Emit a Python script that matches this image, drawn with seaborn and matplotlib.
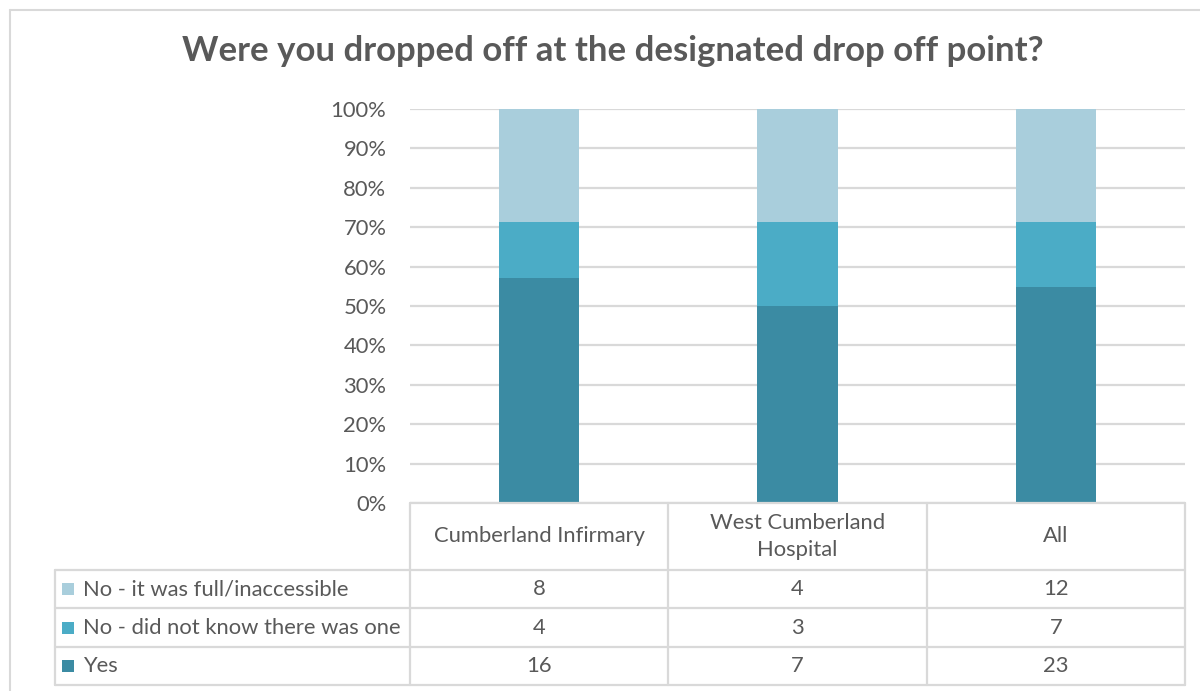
import numpy as np
import pandas as pd
import seaborn as sns
import matplotlib.pyplot as plt
from matplotlib.lines import Line2D
from matplotlib.patches import Rectangle
from matplotlib.transforms import blended_transform_factory

sites = ["Cumberland Infirmary", "West Cumberland\nHospital", "All"]
answers = ["No - it was full/inaccessible", "No - did not know there was one", "Yes"]
full_counts = [8, 4, 12]
unknown_counts = [4, 3, 7]
yes_counts = [16, 7, 23]
colors = ["#A9CEDC", "#4BACC6", "#3B8BA3"]

W, H = 1200, 691
grey = "#D9D9D9"
text_col = "#595959"
fs = 15.8

sns.set_theme(style="white")
plt.rcParams["font.family"] = ["Lato", "DejaVu Sans"]

df = pd.DataFrame({"site": sites, "full": full_counts,
                   "unknown": unknown_counts, "yes": yes_counts})
total = df["full"] + df["unknown"] + df["yes"]
# stacked 100% tops, drawn back to front
df["top_full"] = (df["yes"] + df["unknown"] + df["full"]) / total
df["top_unknown"] = (df["yes"] + df["unknown"]) / total
df["top_yes"] = df["yes"] / total

fig = plt.figure(figsize=(W / 100, H / 100), dpi=100)
ax = fig.add_axes([410 / W, 1 - 503 / H, (1185 - 410) / W, (503 - 109) / H])

for col, c in zip(["top_full", "top_unknown", "top_yes"], colors):
    sns.barplot(data=df, x="site", y=col, order=sites, color=c, width=0.31,
                saturation=1, linewidth=0, errorbar=None, ax=ax)

ax.set_ylim(0, 1)
ax.set_xlim(-0.5, len(sites) - 0.5)
ax.set_yticks(np.arange(0, 1.01, 0.1))
ax.set_yticklabels([f"{int(round(v * 100))}%" for v in np.arange(0, 1.01, 0.1)])
ax.tick_params(axis="y", length=0, pad=17, labelsize=fs, labelcolor=text_col)
ax.tick_params(axis="x", length=0, labelbottom=False)
ax.set_xlabel("")
ax.set_ylabel("")
ax.yaxis.grid(True, color=grey, lw=1.6)
ax.set_axisbelow(True)
sns.despine(ax=ax, left=True, bottom=True)

fig.text(613 / W, 1 - 51 / H, "Were you dropped off at the designated drop off point?",
         ha="center", va="center", fontsize=25, fontweight="bold", color=text_col)

# data table under the chart
tr = blended_transform_factory(ax.transData, fig.transFigure)
fy = lambda y: 1 - y / H
rows_y = [503, 570, 608, 647, 685]
left_x = 55 / W
for y in rows_y[1:]:
    fig.add_artist(Line2D([left_x, ax.get_position().x1], [fy(y), fy(y)],
                          color=grey, lw=1.6))
fig.add_artist(Line2D([-0.5, len(sites) - 0.5], [fy(503), fy(503)],
                      color=grey, lw=1.6, transform=tr))
for i in range(len(sites) + 1):
    fig.add_artist(Line2D([i - 0.5, i - 0.5], [fy(503), fy(685)],
                          color=grey, lw=1.6, transform=tr))
fig.add_artist(Line2D([left_x, left_x], [fy(570), fy(685)], color=grey, lw=1.6))

for i, s in enumerate(sites):
    fig.text(i, fy((503 + 570) / 2), s, transform=tr, ha="center", va="center",
             fontsize=fs, color=text_col, linespacing=1.45)

table_counts = [full_counts, unknown_counts, yes_counts]
for r, (name, vals, c) in enumerate(zip(answers, table_counts, colors)):
    yc = fy((rows_y[r + 1] + rows_y[r + 2]) / 2)
    fig.add_artist(Rectangle((62 / W, yc - 6 / H), 12 / W, 12 / H,
                             facecolor=c, edgecolor="none"))
    fig.text(83 / W, yc, name, ha="left", va="center", fontsize=fs, color=text_col)
    for i, v in enumerate(vals):
        fig.text(i, yc, str(v), transform=tr, ha="center", va="center",
                 fontsize=fs, color=text_col)

# chart area border
fig.add_artist(Line2D([10 / W, 1], [fy(10), fy(10)], color=grey, lw=1.5))
fig.add_artist(Line2D([10 / W, 10 / W], [fy(10), 0], color=grey, lw=1.5))

fig.savefig("out.png", dpi=100)
